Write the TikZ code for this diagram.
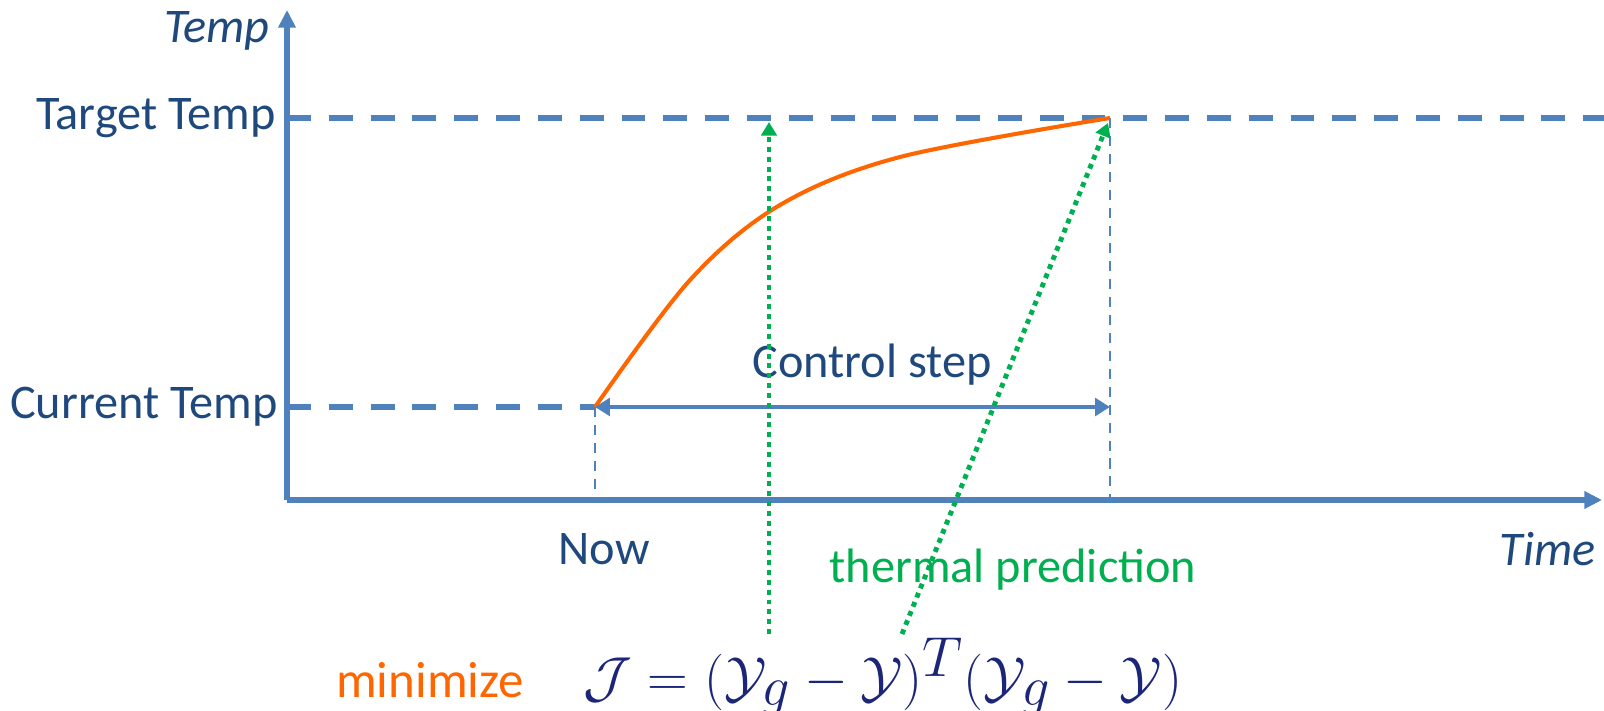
\documentclass[tikz,border=0pt]{standalone}
\usepackage{graphicx}
\usepackage{fontspec}
\setmainfont{Carlito}
\usetikzlibrary{positioning, arrows.meta}
\definecolor{axisblue}{RGB}{79,129,189}
\definecolor{labelblue}{RGB}{31,73,125}
\definecolor{curveorange}{RGB}{255,102,0}
\definecolor{predgreen}{RGB}{0,176,80}
\definecolor{mathnavy}{RGB}{28,38,120}

\begin{document}
\begin{tikzpicture}[
  x=0.02cm, y=0.02cm,
  lbl/.style={font=\fontsize{27.5}{32}\selectfont, text=labelblue, inner sep=0pt},
  axis/.style={draw=axisblue, line width=3pt, -{Triangle[length=10pt, width=9.5pt]}},
  level/.style={draw=axisblue, line width=3.2pt, dash pattern=on 13.6pt off 10.2pt},
  guide/.style={draw=axisblue, line width=1pt, dash pattern=on 5.7pt off 4.5pt},
  span/.style={draw=axisblue, line width=2.4pt, {Triangle[length=8.5pt, width=10pt]}-{Triangle[length=8.5pt, width=10pt]}},
  pred/.style={draw=predgreen, line width=2.8pt, dash pattern=on 2.8pt off 2.8pt, -{Triangle[length=7.7pt, width=8.7pt]}},
]
  \useasboundingbox (0,0) rectangle (1604,710);
  % key points
  \coordinate (origin)   at (287,210);
  \coordinate (ytop)     at (287,700);
  \coordinate (xend)     at (1602,210);
  \coordinate (tgtL)     at (287,592);
  \coordinate (tgtR)     at (1604,592);
  \coordinate (curL)     at (287,303);
  \coordinate (now)      at (595,303);
  \coordinate (goal)     at (1110,592);
  \coordinate (nowfoot)  at (595,210);
  \coordinate (goalfoot) at (1110,210);
  \coordinate (stepend)  at (1110,303);
  \coordinate (predA)    at (769,76);
  \coordinate (predAtip) at (769,588);
  \coordinate (predB)    at (902,76);
  \coordinate (predBtip) at (1108,587);
  % levels and guides
  \draw[level] (tgtL) -- (tgtR);
  \draw[level] (curL) -- (now);
  \draw[guide] (now) -- (nowfoot);
  \draw[guide] (goal) -- (goalfoot);
  % axes
  \draw[axis] (origin) -- (ytop);
  \draw[axis] (origin) -- (xend);
  % labels
  \node[lbl, anchor=east]  (ttemp) at (276,592) {Target Temp};
  \node[lbl, anchor=east]  (ctemp) at (278,303) {Current Temp};
  \node[lbl, anchor=east, font=\fontsize{27.5}{32}\selectfont\itshape] (ylab) at (270,679) {Temp};
  \node[lbl, anchor=east, font=\fontsize{27.5}{32}\selectfont\itshape] (xlab) at (1596,161) {Time};
  \node[lbl] (nowlab)  at (604,161) {Now};
  \node[lbl] (steplab) at (872,345) {Control step};
  \node[lbl, text=predgreen] (predlab) at (1013,140) {thermal prediction};
  \node[lbl, text=curveorange, font=\fontsize{29}{32}\selectfont] (minlab) at (430,30) {minimize};
  \node[inner sep=0pt, text=mathnavy, font=\fontsize{33}{38}\selectfont] (cost) at (883,33)
    {\scalebox{1.29}{$\mathcal{J} = (\mathcal{Y}_g - \mathcal{Y})^T(\mathcal{Y}_g - \mathcal{Y})$}};
  % temperature curve and control step
  \draw[curveorange, line width=2.3pt] plot[smooth, tension=0.55] coordinates
    {(595,303) (690,430) (780,505) (900,553) (1110,592)};
  \draw[span] (now) -- (stepend);
  % predictions
  \draw[pred] (predA) -- (predAtip);
  \draw[pred] (predB) -- (predBtip);
\end{tikzpicture}
\end{document}
